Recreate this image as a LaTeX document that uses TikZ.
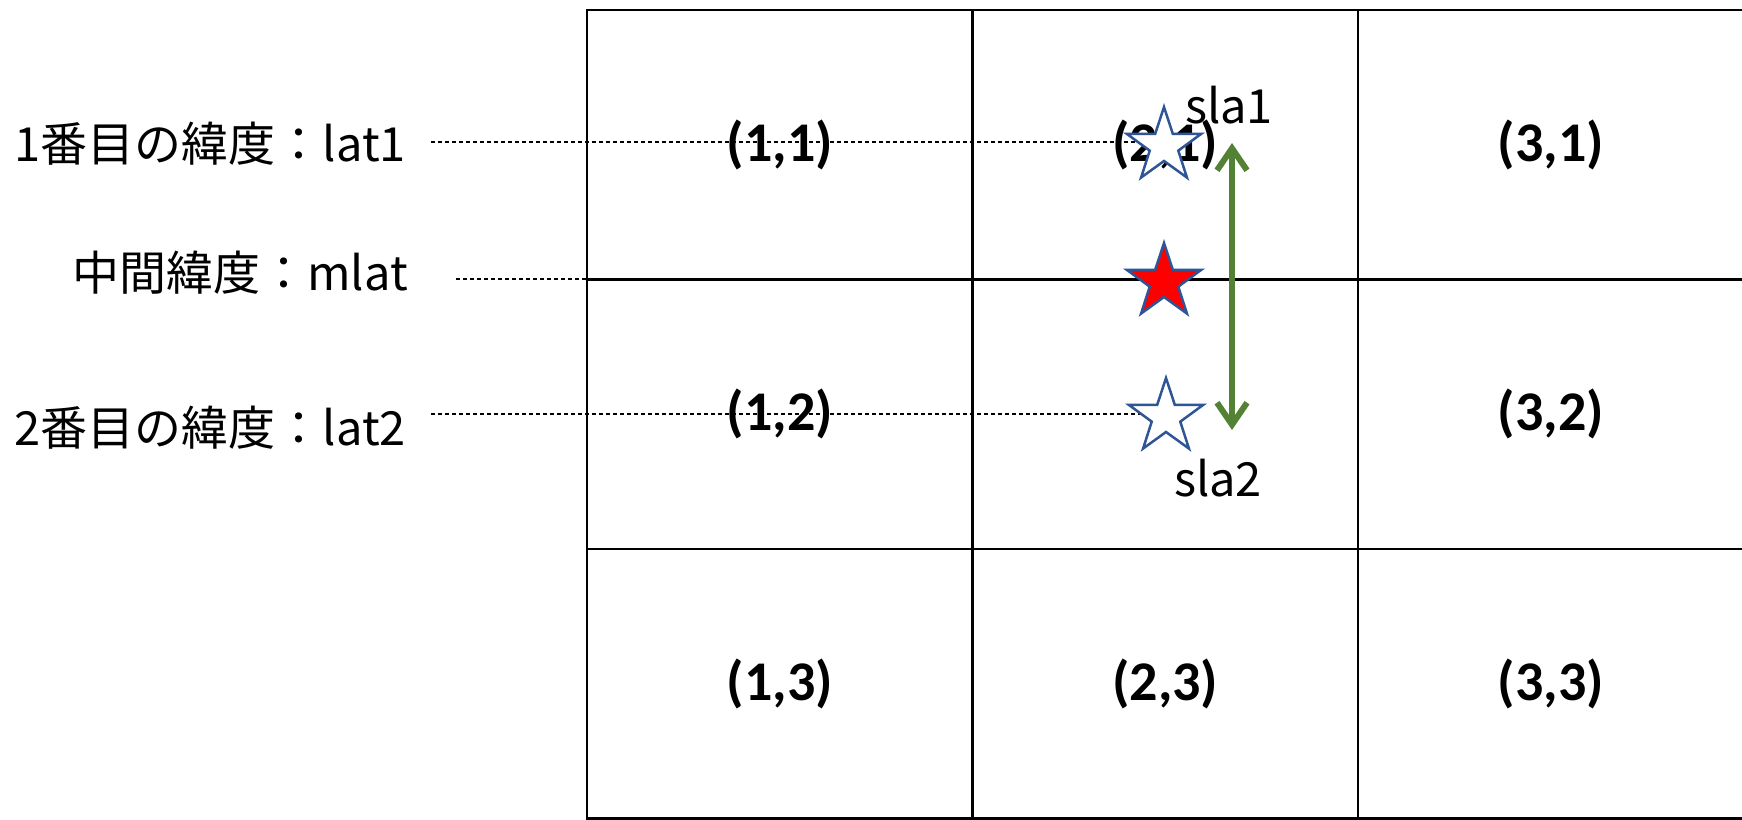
\documentclass[tikz,border=0pt]{standalone}
\usepackage{fontspec}
\usetikzlibrary{shapes.geometric,arrows.meta}
\newfontfamily\jpfont{Noto Sans CJK JP}
\newfontfamily\cellfont{Carlito}
\definecolor{starblue}{HTML}{2F5597}
\definecolor{arrowgreen}{HTML}{548235}
\tikzset{
  cell/.style={draw=black, line width=2.5pt, minimum width=385.5pt, minimum height=269.5pt, inner sep=0pt,
    font=\cellfont\bfseries\fontsize{56}{56}\selectfont},
  lbl/.style={inner sep=0pt, font=\jpfont\fontsize{47}{47}\selectfont},
  dashline/.style={black, line width=1.2pt, dash pattern=on 4pt off 3pt},
  starshape/.style={star, star points=5, star point ratio=2.6, minimum size=78pt, inner sep=0pt,
    draw=starblue, line width=2.5pt},
  greenarrow/.style={arrowgreen, line width=6pt,
    {Straight Barb[length=22pt,width=30pt]}-{Straight Barb[length=22pt,width=30pt]}}
}
\begin{document}
\begin{tikzpicture}[x=1pt,y=-1pt]
\useasboundingbox (0,0) rectangle (1742,819);
\fill[white] (0,0) rectangle (1742,819);
% grid cells
\foreach \c/\r/\t in {1/1/{(1,1)},2/1/{(2,1)},3/1/{(3,1)},1/2/{(1,2)},2/2/{},3/2/{(3,2)},1/3/{(1,3)},2/3/{(2,3)},3/3/{(3,3)}}{
  \node[cell] (c\c\r) at ({587+385.5*(\c-0.5)},{10+269.5*(\r-0.5)}) {\t};
}
% labels
\node[lbl, anchor=east] (lat1) at (406,144) {1番目の緯度：lat1};
\node[lbl, anchor=east] (mlat) at (408,273) {中間緯度：mlat};
\node[lbl, anchor=east] (lat2) at (406,428) {2番目の緯度：lat2};
% star positions
\coordinate (p1) at (1164,146);
\coordinate (p2) at (1164,282);
\coordinate (p3) at (1166,417);
% dashed lines
\coordinate (d1) at (431,142);
\coordinate (dm) at (456,279);
\coordinate (d2) at (431,414);
\draw[dashline] (d1) -- (d1 -| p1);
\draw[dashline] (dm) -- (dm -| c11.west);
\draw[dashline] (d2) -- (d2 -| p3);
% stars
\node[starshape, fill=white] (s1) at (p1) {};
\node[starshape, fill=red] (s2) at (p2) {};
\node[starshape, fill=white] (s3) at (p3) {};
% arrow
\coordinate (a1) at (1232,143);
\coordinate (a2) at (1232,430);
\draw[greenarrow] (a1) -- (a2);
% sla labels
\node[lbl] (sla1) at (1229,105) {sla1};
\node[lbl] (sla2) at (1218,478) {sla2};
\end{tikzpicture}
\end{document}
